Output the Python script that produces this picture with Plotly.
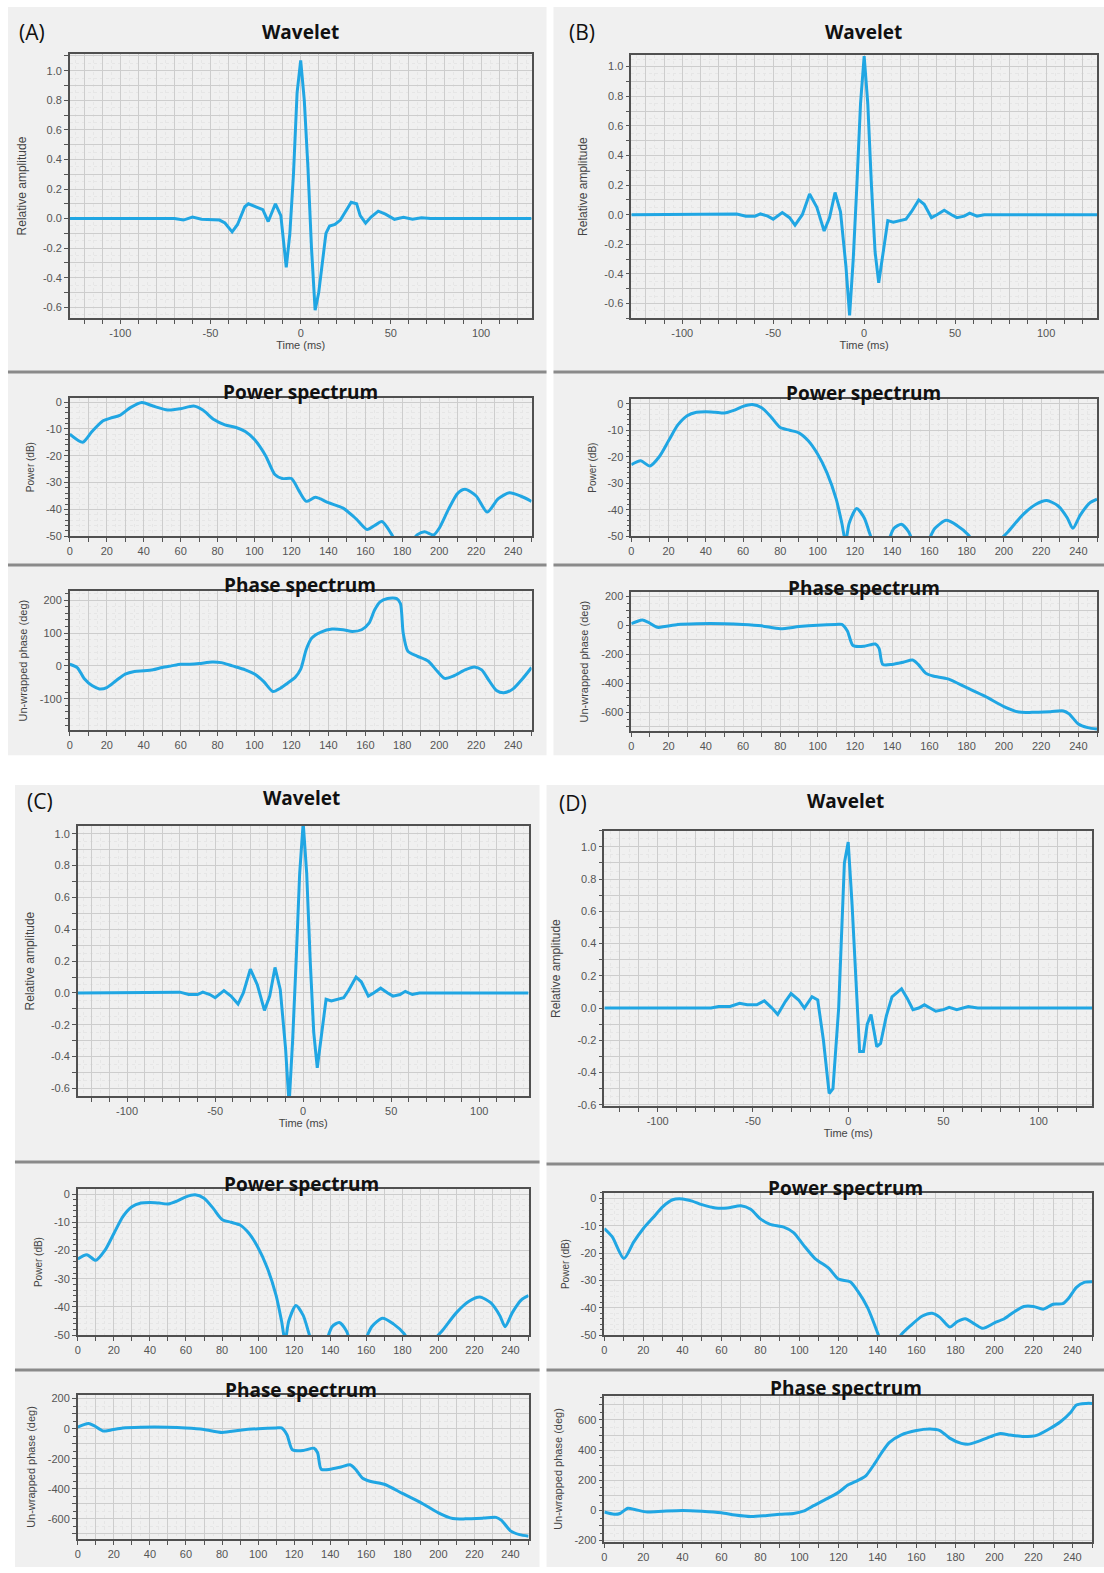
import math
import plotly.graph_objects as go

# ---------------- DATA ----------------
# Panel A
A_wav_t = [-128, -70, -65, -60, -55, -50, -45, -42, -38, -35, -31, -29, -25, -21, -18, -14, -11, -8, -6, -4, -2, 0, 2, 4, 6, 8, 10, 12, 14, 16, 19, 22, 25, 28, 31, 33, 36, 39, 43, 47, 52, 57, 62, 67, 72, 128]
A_wav_v = [0, 0, -0.01, 0.01, -0.005, -0.01, -0.01, -0.03, -0.09, -0.04, 0.08, 0.1, 0.08, 0.06, -0.02, 0.1, 0.02, -0.33, -0.1, 0.3, 0.85, 1.07, 0.8, 0.35, -0.2, -0.62, -0.5, -0.3, -0.1, -0.05, -0.04, -0.01, 0.05, 0.11, 0.1, 0.02, -0.03, 0.01, 0.05, 0.03, -0.005, 0.008, -0.005, 0.005, 0, 0]
A_pow_f = [0, 7, 12, 18, 22, 27, 33, 39, 45, 53, 60, 67, 72, 78, 84, 90, 95, 100, 106, 111, 115, 120, 124, 128, 133, 140, 148, 155, 161, 165, 169, 174, 177, 180, 184, 188, 192, 197, 200, 205, 210, 214, 220, 226, 232, 238, 244, 250]
A_pow_v = [-12, -15, -11, -7, -6, -5, -2, -0.2, -1.5, -3, -2.5, -1.5, -3, -6.5, -8.5, -9.5, -11, -14, -20, -27, -28.5, -28.5, -33, -37, -35.5, -37.5, -39.5, -43.5, -47.5, -46, -44.5, -49, -53, -56, -53, -49.5, -48.3, -49.5, -47, -40, -34, -32.5, -35, -41, -36, -33.8, -35, -37]
A_pha_f = [0, 4, 8, 12, 16, 20, 25, 30, 35, 40, 45, 50, 55, 60, 65, 70, 77, 82, 88, 95, 100, 105, 110, 114, 118, 122, 125, 128, 131, 136, 142, 148, 153, 158, 162, 165, 168, 172, 177, 179, 180.5, 183, 188, 194, 198, 203, 208, 214, 219, 223, 227, 231, 235, 240, 245, 250]
A_pha_v = [5, -5, -40, -60, -70, -66, -45, -25, -17, -15, -12, -5, 0, 5, 5, 7, 12, 10, 0, -12, -25, -48, -78, -68, -52, -35, -10, 50, 85, 103, 112, 110, 105, 110, 130, 170, 195, 205, 205, 190, 100, 45, 30, 15, -10, -38, -30, -12, -3, -12, -45, -75, -82, -70, -40, -5]

# Panel B
B_wav_t = [-128, -70, -65, -60, -57, -53, -50, -45, -41, -38, -34, -30, -26, -22, -19, -16, -13, -10, -8, -6, -4, -2, 0, 2, 4, 6, 8, 10, 13, 16, 19, 23, 26, 30, 33, 37, 40, 44, 48, 51, 55, 58, 62, 66, 128]
B_wav_v = [0, 0.005, -0.01, -0.01, 0.005, -0.01, -0.03, 0.015, -0.02, -0.07, 0.0, 0.14, 0.05, -0.11, -0.02, 0.15, 0.02, -0.35, -0.68, -0.3, 0.2, 0.75, 1.07, 0.75, 0.2, -0.25, -0.46, -0.3, -0.04, -0.05, -0.04, -0.03, 0.02, 0.1, 0.07, -0.02, 0.0, 0.03, 0.0, -0.02, -0.01, 0.01, -0.01, 0.0, 0.0]
B_pow_f = [0, 5, 10, 15, 20, 25, 30, 35, 40, 45, 50, 55, 60, 65, 70, 75, 80, 85, 90, 95, 100, 105, 110, 113, 115, 117, 121, 125, 128, 131, 135, 138, 141, 145, 149, 152, 156, 160, 163, 169, 175, 181, 185, 190, 197, 202, 210, 217, 223, 229, 234, 237, 241, 246, 250]
B_pow_v = [-23, -21.5, -23.5, -20, -14, -8, -4.5, -3.2, -3, -3.2, -3.5, -2.5, -1, -0.3, -1.5, -5, -9, -10, -11, -14, -19, -26, -36, -45, -52, -45, -39.5, -43, -49, -55, -58, -52, -47, -45.5, -48.5, -54, -58, -51, -47, -44, -46, -49.5, -54, -58, -52, -48.5, -42, -38, -36.5, -38.5, -43, -47, -42, -37.5, -36]
B_pha_f = [0, 3, 6, 9, 14, 18, 25, 35, 50, 60, 70, 80, 90, 100, 110, 113, 116, 119, 125, 131, 133, 135, 140, 146, 151, 154, 158, 162, 170, 180, 190, 200, 208, 215, 225, 232, 235, 240, 245, 250]
B_pha_v = [10, 25, 35, 20, -15, -10, 5, 10, 10, 5, -5, -25, -10, 0, 5, 5, -40, -140, -145, -130, -160, -270, -270, -255, -240, -270, -330, -350, -370, -430, -490, -560, -598, -600, -595, -590, -610, -680, -705, -715]

# Panel C
C_wav_t = [-128, -70, -65, -60, -57, -53, -50, -45, -41, -37, -34, -30, -26, -22, -19, -16, -13, -10, -8, -6, -4, -2, 0, 2, 4, 6, 8, 10, 13, 16, 19, 23, 26, 30, 33, 37, 40, 44, 48, 51, 55, 58, 62, 66, 128]
C_wav_v = [0, 0.005, -0.01, -0.01, 0.005, -0.01, -0.03, 0.015, -0.02, -0.07, 0.0, 0.15, 0.05, -0.11, -0.02, 0.16, 0.02, -0.35, -0.7, -0.3, 0.2, 0.75, 1.07, 0.75, 0.2, -0.25, -0.47, -0.3, -0.04, -0.05, -0.04, -0.03, 0.02, 0.1, 0.07, -0.02, 0.0, 0.03, 0.0, -0.02, -0.01, 0.01, -0.01, 0.0, 0.0]
C_pow_f = [0, 5, 10, 15, 20, 25, 30, 35, 40, 45, 50, 55, 60, 65, 70, 75, 80, 85, 90, 95, 100, 105, 110, 113, 115, 117, 121, 125, 128, 131, 135, 138, 141, 145, 149, 152, 156, 160, 163, 169, 175, 181, 185, 190, 197, 202, 210, 217, 223, 229, 234, 237, 241, 246, 250]
C_pow_v = [-23, -21.5, -23.5, -20, -14, -8, -4.5, -3.2, -3, -3.2, -3.5, -2.5, -1, -0.3, -1.5, -5, -9, -10, -11, -14, -19, -26, -36, -45, -52, -45, -39.5, -43, -49, -55, -58, -52, -47, -45.5, -48.5, -54, -58, -51, -47, -44, -46, -49.5, -54, -58, -52, -48.5, -42, -38, -36.5, -38.5, -43, -47, -42, -37.5, -36]
C_pha_f = [0, 3, 6, 9, 14, 18, 25, 35, 50, 60, 70, 80, 90, 100, 110, 113, 116, 119, 125, 131, 133, 135, 140, 146, 151, 154, 158, 162, 170, 180, 190, 200, 208, 215, 225, 232, 235, 240, 245, 250]
C_pha_v = [10, 25, 35, 20, -15, -10, 5, 10, 10, 5, -5, -25, -10, 0, 5, 5, -40, -140, -145, -130, -160, -270, -270, -255, -240, -270, -330, -350, -370, -430, -490, -560, -598, -600, -595, -590, -610, -680, -705, -715]

# Panel D
D_wav_t = [-128, -72, -68, -62, -57, -53, -48, -44, -40, -37, -33, -30, -26, -23, -19, -16, -13, -10, -8, -5, -2, 0, 2, 4, 6, 8, 10, 12, 15, 17, 20, 23, 28, 31, 34, 37, 40, 43, 46, 50, 53, 57, 63, 68, 128]
D_wav_v = [0, 0, 0.01, 0.01, 0.03, 0.02, 0.02, 0.045, 0.0, -0.04, 0.04, 0.09, 0.05, 0.0, 0.07, 0.05, -0.2, -0.53, -0.5, 0.0, 0.9, 1.03, 0.65, 0.2, -0.27, -0.27, -0.1, -0.04, -0.24, -0.22, -0.05, 0.07, 0.12, 0.06, -0.01, 0.0, 0.02, 0.0, -0.02, -0.01, 0.005, -0.01, 0.01, 0.0, 0.0]
D_pow_f = [0, 4, 10, 15, 20, 25, 30, 35, 40, 45, 50, 57, 63, 70, 75, 80, 85, 92, 97, 102, 108, 115, 120, 126, 130, 135, 140, 142, 146, 150, 152, 157, 163, 168, 172, 177, 181, 185, 190, 194, 200, 205, 210, 215, 220, 225, 230, 235, 238, 242, 246, 250]
D_pow_v = [-11, -14, -22, -16, -11, -7, -3, -0.5, -0.2, -1, -2.3, -3.5, -3.5, -2.7, -4, -7.5, -9.5, -10.5, -12.5, -17, -22, -25.5, -29.5, -30.5, -34, -40, -49, -53, -57, -53, -50, -46.5, -43, -42, -43.5, -47, -45, -44, -46, -47.5, -45.5, -44, -41.5, -39.5, -39.5, -40.5, -38.7, -38.5, -36.5, -32.5, -30.7, -30.5]
D_pha_f = [0, 5, 8, 12, 16, 22, 30, 40, 50, 60, 67, 75, 82, 90, 97, 102, 107, 113, 120, 125, 130, 134, 138, 142, 146, 152, 160, 167, 172, 177, 183, 187, 192, 198, 203, 208, 215, 222, 228, 234, 239, 242, 247, 250]
D_pha_v = [-10, -25, -20, 15, 5, -10, -5, 0, -5, -15, -30, -40, -35, -25, -20, -5, 30, 70, 120, 170, 200, 230, 300, 380, 450, 500, 530, 540, 530, 480, 445, 440, 460, 490, 510, 500, 490, 500, 540, 590, 650, 700, 710, 710]

PANEL_LABELS = ["(A)", "(B)", "(C)", "(D)"]
WAVELET_TITLE = "Wavelet"
POWER_TITLE = "Power spectrum"
PHASE_TITLE = "Phase spectrum"
WAV_YTITLE = "Relative amplitude"
WAV_XTITLE = "Time (ms)"
POW_YTITLE = "Power (dB)"
PHA_YTITLE = "Un-wrapped phase (deg)"

# ---------------- LAYOUT (pixel geometry) ----------------
W, H = 1104, 1573
BLUE = "#20a6e3"
FONT = "Liberation Sans"
TITLE_FONT = "Open Sans"


def px(x):
    return x / W


def py(y):
    return 1 - y / H


panels = [
    dict(label=PANEL_LABELS[0], bg=(5, 5, 545, 757), lab=(14, 30), tx=298,
         wav=(67, 530, 52, 318), wt=30, wrange=[-0.675, 1.115],
         pw=(67, 530, 398, 537), pt=392, prange=[-50, 1.5],
         ph=(67, 530, 592, 732), ht=586, hrange=[-196, 228], hstep=(100, 100, 20),
         seps=(372, 566),
         data=(A_wav_t, A_wav_v, A_pow_f, A_pow_v, A_pha_f, A_pha_v)),
    dict(label=PANEL_LABELS[1], bg=(552, 5, 1104, 757), lab=(566, 30), tx=863,
         wav=(630, 1097, 53, 318), wt=30, wrange=[-0.7, 1.08],
         pw=(630, 1097, 399, 537), pt=393, prange=[-50, 1.8],
         ph=(630, 1097, 593, 733), ht=589, hrange=[-730, 228], hstep=(200, 100, 50),
         seps=(372, 566),
         data=(B_wav_t, B_wav_v, B_pow_f, B_pow_v, B_pha_f, B_pha_v)),
    dict(label=PANEL_LABELS[2], bg=(12, 787, 538, 1573), lab=(22, 803), tx=299,
         wav=(75, 527, 828, 1100), wt=800, wrange=[-0.65, 1.05],
         pw=(75, 527, 1193, 1340), pt=1188, prange=[-50, 1.8],
         ph=(75, 527, 1400, 1545), ht=1395, hrange=[-735, 225], hstep=(200, 100, 50),
         seps=(1166, 1375),
         data=(C_wav_t, C_wav_v, C_pow_f, C_pow_v, C_pha_f, C_pha_v)),
    dict(label=PANEL_LABELS[3], bg=(545, 787, 1104, 1573), lab=(556, 805), tx=845,
         wav=(603, 1092, 833, 1110), wt=803, wrange=[-0.61, 1.1],
         pw=(603, 1092, 1197, 1340), pt=1192, prange=[-50, 2.0],
         ph=(603, 1092, 1401, 1548), ht=1393, hrange=[-210, 760], hstep=(200, 100, 50),
         seps=(1168, 1375),
         data=(D_wav_t, D_wav_v, D_pow_f, D_pow_v, D_pha_f, D_pha_v)),
]


def make_ticks(lo, hi, step, label_step, fmt):
    vals, texts = [], []
    k = math.ceil(lo / step - 1e-9)
    while k * step <= hi + 1e-9:
        v = round(k * step, 6)
        vals.append(v)
        r = v / label_step
        texts.append(fmt(v) if abs(r - round(r)) < 1e-6 else "")
        k += 1
    return vals, texts


def axis_cfg(domain, rng, step, label_step, minor_step, fmt, minor_ticks, anchor,
             title=None, title_size=11, standoff=4):
    vals, texts = make_ticks(rng[0], rng[1], step, label_step, fmt)
    d = dict(
        domain=domain, range=rng, anchor=anchor,
        tickmode="array", tickvals=vals, ticktext=texts,
        ticks="outside", ticklen=4, tickwidth=1, tickcolor="#555",
        showgrid=True, gridcolor="#cdcdcd", gridwidth=1,
        minor=dict(tickmode="linear", tick0=0, dtick=minor_step, showgrid=True,
                   gridcolor="#e6e6e6", griddash="dot", gridwidth=1,
                   ticks="outside" if minor_ticks else "", ticklen=3, tickcolor="#555"),
        showline=True, linecolor="#505050", linewidth=1.5, mirror=True,
        zeroline=False, tickfont=dict(family=FONT, size=11, color="#555"),
        fixedrange=True,
    )
    if title:
        d["title"] = dict(text=title, font=dict(family=FONT, size=title_size, color="#444"),
                          standoff=standoff)
    return d


fig = go.Figure()
shapes, annotations = [], []
layout_axes = {}
n = 0


def add_sub(t, v, frame, xr, yr, xspec, yspec, shape, xtitle=None, ytitle=None, ytsize=11,
            ystandoff=6):
    global n
    n += 1
    xname = "x" if n == 1 else f"x{n}"
    yname = "y" if n == 1 else f"y{n}"
    xkey = "xaxis" if n == 1 else f"xaxis{n}"
    ykey = "yaxis" if n == 1 else f"yaxis{n}"
    x0, x1, y0, y1 = frame
    layout_axes[xkey] = axis_cfg([px(x0), px(x1)], xr, *xspec, anchor=yname,
                                 title=xtitle, title_size=11, standoff=2)
    layout_axes[ykey] = axis_cfg([py(y1), py(y0)], yr, *yspec, anchor=xname,
                                 title=ytitle, title_size=ytsize, standoff=ystandoff)
    line = dict(color=BLUE, width=3)
    if shape == "spline":
        line.update(shape="spline", smoothing=0.7)
    fig.add_trace(go.Scatter(x=t, y=v, mode="lines", line=line, xaxis=xname, yaxis=yname,
                             showlegend=False, hoverinfo="skip"))


fmt_int = lambda v: f"{int(round(v))}"
fmt_1 = lambda v: f"{v:.1f}"

for p in panels:
    bx0, by0, bx1, by1 = p["bg"]
    shapes.append(dict(type="rect", xref="paper", yref="paper", layer="below",
                       x0=px(bx0), x1=px(bx1), y0=py(by1), y1=py(by0),
                       fillcolor="#f0f0f0", line=dict(width=0)))
    for s in p["seps"]:
        shapes.append(dict(type="line", xref="paper", yref="paper",
                           x0=px(bx0), x1=px(bx1), y0=py(s), y1=py(s),
                           line=dict(color="#8a8a8a", width=3)))
    wt, wv, pf, pv, hf, hv = p["data"]
    # wavelet
    add_sub(wt, wv, p["wav"], [-128, 128], p["wrange"],
            (10, 50, 5, fmt_int, False), (0.1, 0.2, 0.05, fmt_1, False), "linear",
            xtitle=WAV_XTITLE, ytitle=WAV_YTITLE, ytsize=12, ystandoff=14)
    # power
    add_sub(pf, pv, p["pw"], [0, 250], p["prange"],
            (10, 20, 5, fmt_int, False), (10, 10, 2, fmt_int, True), "spline",
            ytitle=POW_YTITLE, ytsize=10, ystandoff=9)
    # phase
    lab_step, grid_step, minor_step = p["hstep"]
    add_sub(hf, hv, p["ph"], [0, 250], p["hrange"],
            (10, 20, 5, fmt_int, False), (grid_step, lab_step, minor_step, fmt_int, True), "spline",
            ytitle=PHA_YTITLE, ytsize=11, ystandoff=10)

    annotations.append(dict(text=p["label"], x=px(p["lab"][0]), y=py(p["lab"][1]),
                            xref="paper", yref="paper", xanchor="left", yanchor="middle",
                            showarrow=False, font=dict(family=TITLE_FONT, size=21, color="#111")))
    for title, ty in ((WAVELET_TITLE, p["wt"]), (POWER_TITLE, p["pt"]), (PHASE_TITLE, p["ht"])):
        annotations.append(dict(text=f"<b>{title}</b>", x=px(p["tx"]), y=py(ty),
                                xref="paper", yref="paper", xanchor="center", yanchor="middle",
                                showarrow=False,
                                font=dict(family=TITLE_FONT, size=19, color="#111")))

fig.update_layout(
    width=W, height=H, margin=dict(l=0, r=0, t=0, b=0),
    paper_bgcolor="white", plot_bgcolor="white",
    shapes=shapes, annotations=annotations, showlegend=False,
    **layout_axes,
)

fig.write_html("out.html")
